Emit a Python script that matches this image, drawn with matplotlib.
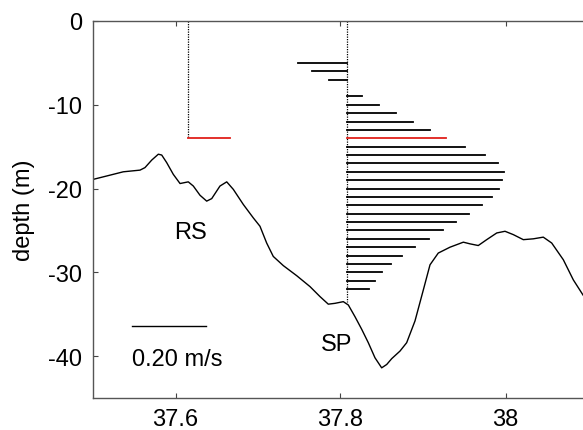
import matplotlib
matplotlib.use("Agg")
import matplotlib.pyplot as plt

plt.rcParams["font.family"] = ["Liberation Sans", "DejaVu Sans"]

# bottom profile along the section
bot_lat = [37.5004, 37.5166, 37.5367, 37.5570, 37.5630, 37.5712, 37.5792, 37.5833,
           37.5893, 37.5973, 37.6055, 37.6155, 37.6216, 37.6297, 37.6378, 37.6439,
           37.6539, 37.6621, 37.6701, 37.6822, 37.6943, 37.7024, 37.7105, 37.7185,
           37.7307, 37.7469, 37.7630, 37.7752, 37.7852, 37.7933, 37.8034, 37.8095,
           37.8176, 37.8257, 37.8337, 37.8418, 37.8499, 37.8560, 37.8621, 37.8721,
           37.8802, 37.8903, 37.9004, 37.9085, 37.9185, 37.9327, 37.9489, 37.9570,
           37.9670, 37.9772, 37.9894, 37.9994, 38.0095, 38.0216, 38.0337, 38.0458,
           38.0560, 38.0701, 38.0822, 38.0939, 38.1000]
bot_depth = [-18.9, -18.5, -18.0, -17.8, -17.5, -16.6, -15.9, -16.0,
             -16.9, -18.3, -19.4, -19.2, -19.7, -20.8, -21.5, -21.2,
             -19.7, -19.2, -20.1, -21.9, -23.5, -24.5, -26.5, -28.1,
             -29.2, -30.4, -31.7, -32.9, -33.8, -33.7, -33.5, -33.9,
             -35.3, -36.8, -38.4, -40.2, -41.4, -41.0, -40.3, -39.4,
             -38.4, -35.8, -32.1, -29.1, -27.7, -27.0, -26.4, -26.6,
             -26.8, -26.1, -25.3, -25.1, -25.5, -26.1, -26.0, -25.8,
             -26.5, -28.5, -30.9, -32.7, -33.5]

# station RS
rs_lat = 37.6155
rs_depth = [-14]
rs_speed = [0.112]

# station SP
sp_lat = 37.8083
sp_bottom = -33.6
sp_depth = [-5, -6, -7, -9, -10, -11, -12, -13, -14, -15, -16, -17, -18, -19,
            -20, -21, -22, -23, -24, -25, -26, -27, -28, -29, -30, -31, -32]
sp_speed = [-0.132, -0.094, -0.050, 0.040, 0.085, 0.132, 0.177, 0.223, 0.266,
            0.318, 0.371, 0.407, 0.421, 0.417, 0.408, 0.390, 0.362, 0.328,
            0.292, 0.257, 0.219, 0.182, 0.147, 0.117, 0.092, 0.075, 0.057]
highlight = -14

SCALE = 0.45      # degrees latitude per m/s
ref_speed = 0.20

fig = plt.figure(figsize=(5.83, 4.31), dpi=100)
ax = fig.add_axes([93 / 583, 32 / 431, 495 / 583, 377 / 431])

ax.plot(bot_lat, bot_depth, color="black", lw=1.0, solid_joinstyle="round")

# RS profile
ax.plot([rs_lat, rs_lat], [0, rs_depth[-1]], color="black", lw=0.9, ls=(0, (1, 1)))
for d, s in zip(rs_depth, rs_speed):
    ax.plot([rs_lat, rs_lat + s * SCALE], [d, d], color="#e0201a", lw=1.3)

# SP profile
ax.plot([sp_lat, sp_lat], [0, sp_bottom], color="black", lw=0.9, ls=(0, (1, 1)))
for d, s in zip(sp_depth, sp_speed):
    c = "#e0201a" if d == highlight else "black"
    ax.plot([sp_lat, sp_lat + s * SCALE], [d, d], color=c, lw=1.3)

# scale bar
ax.plot([37.5469, 37.5469 + ref_speed * SCALE], [-36.4, -36.4], color="black", lw=1.0)
ax.text(37.5469, -40.4, "%.2f m/s" % ref_speed, fontsize=17, va="center", ha="left")

ax.text(37.6176, -25.2, "RS", fontsize=17, ha="center", va="center")
ax.text(37.7954, -38.5, "SP", fontsize=17, ha="center", va="center")

ax.set_xlim(37.5, 38.1)
ax.set_ylim(-45, 0)
ax.set_xticks([37.6, 37.8, 38.0])
ax.set_xticklabels(["37.6", "37.8", "38"])
ax.set_yticks([0, -10, -20, -30, -40])
ax.set_yticklabels(["0", "-10", "-20", "-30", "-40"])
ax.set_ylabel("depth (m)", fontsize=17, labelpad=9)
ax.tick_params(direction="in", length=3.5, width=0.8, top=True, right=True,
               labelsize=17, color="#444444")
ax.tick_params(axis="y", pad=8)
ax.tick_params(axis="x", pad=7)
for s in ax.spines.values():
    s.set_color("#555555")
    s.set_linewidth(1.0)

fig.savefig("out.png", dpi=100, facecolor="white")
